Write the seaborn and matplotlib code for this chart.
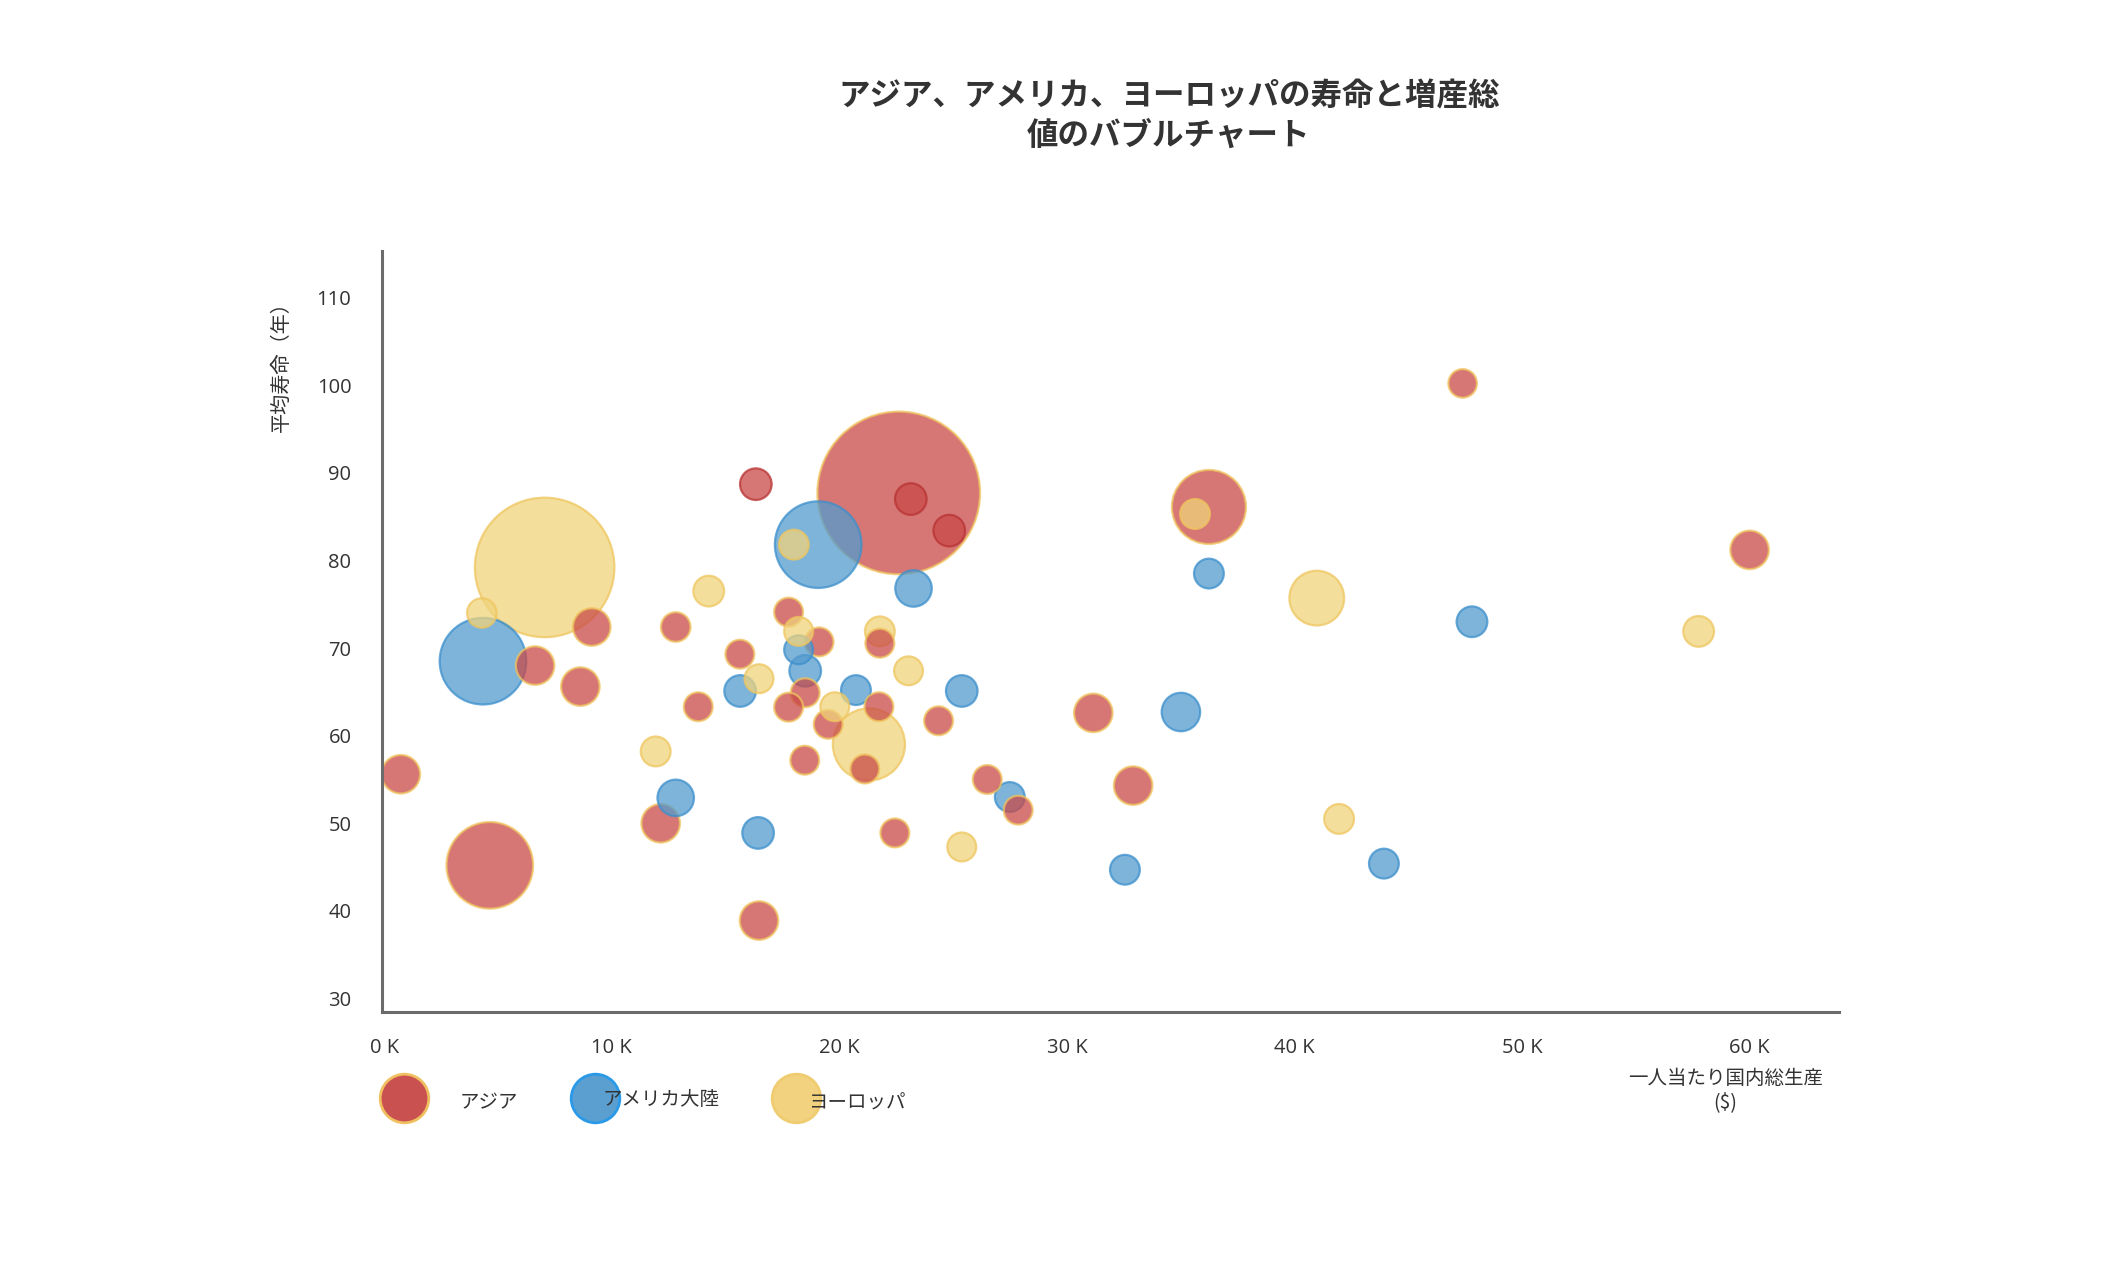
import numpy as np
import pandas as pd
import matplotlib
matplotlib.use("Agg")
import matplotlib.pyplot as plt
import seaborn as sns
from matplotlib.lines import Line2D
from matplotlib.ticker import FuncFormatter
from matplotlib.colors import to_rgba

# ---------------- data ----------------
regions = ["アジア", "アメリカ大陸", "ヨーロッパ"]

asia_gdp = [730, 4640, 9120, 6630, 8620, 12810, 16330, 22610, 23140, 24830,
            17770, 19110, 21780, 15630, 18500, 13800, 17770, 21740, 24360, 19510,
            21120, 18480, 26500, 27860, 22440, 16470, 12150, 36240, 31160, 32910,
            47390, 60000]
asia_life = [55.6, 45.2, 72.4, 68.0, 65.6, 72.4, 88.7, 87.7, 87.0, 83.4,
             74.1, 70.7, 70.55, 69.3, 64.9, 63.3, 63.25, 63.3, 61.7, 61.3,
             56.2, 57.2, 55.0, 51.5, 48.9, 38.9, 50.0, 86.1, 62.6, 54.3,
             100.2, 81.2]
asia_pop = [80, 405, 76, 80, 80, 47, 54, 1428, 54, 54,
            45, 45, 45, 45, 45, 45, 45, 45, 45, 45,
            45, 45, 45, 45, 45, 80, 80, 296, 80, 80,
            44, 80]
asia_dark_edge = [6, 8, 9]

amer_gdp = [4340, 19070, 23260, 18210, 18500, 15640, 20730, 25380, 27490, 16430,
            12810, 36240, 35010, 32550, 43930, 47800]
amer_life = [68.5, 81.8, 76.8, 69.8, 67.4, 65.1, 65.2, 65.1, 53.0, 48.9,
             52.9, 78.5, 62.7, 44.7, 45.4, 73.0]
amer_pop = [405, 405, 72, 45, 54, 54, 48, 54, 48, 54,
            72, 48, 80, 48, 48, 51]

euro_gdp = [7050, 4290, 14260, 18000, 18210, 21780, 16470, 23040, 19800, 21300,
            11930, 25380, 35630, 40980, 41960, 57760]
euro_life = [79.2, 74.0, 76.5, 81.8, 71.9, 71.9, 66.5, 67.4, 63.3, 59.0,
             58.2, 47.3, 85.3, 75.7, 50.5, 71.9]
euro_pop = [1051, 47, 51, 48, 45, 48, 45, 45, 45, 281,
            48, 45, 48, 162, 48, 51]

x_ticks = [0, 10000, 20000, 30000, 40000, 50000, 60000]
y_ticks = [30, 40, 50, 60, 70, 80, 90, 100, 110]

title_lines = ["アジア、アメリカ、ヨーロッパの寿命と増産総", "値のバブルチャート"]
y_label = "平均寿命（年）"
x_label_lines = ["一人当たり国内総生産", "($)"]

# ---------------- frame ----------------
parts = []
for reg, g, l, p in [(regions[0], asia_gdp, asia_life, asia_pop),
                     (regions[1], amer_gdp, amer_life, amer_pop),
                     (regions[2], euro_gdp, euro_life, euro_pop)]:
    d = pd.DataFrame({"region": reg, "gdp": g, "life": l, "pop": p})
    d["dark_edge"] = False
    if reg == regions[0]:
        d.loc[asia_dark_edge, "dark_edge"] = True
    parts.append(d)
df = pd.concat(parts, ignore_index=True)
df = df.sort_values("pop", ascending=False, kind="mergesort").reset_index(drop=True)

# ---------------- style ----------------
sns.set_style("white")
plt.rcParams["font.family"] = ["Open Sans", "Noto Sans CJK JP", "DejaVu Sans"]
CJK = ["Noto Sans CJK JP", "DejaVu Sans"]

fill = {"アジア": "#c94a48", "アメリカ大陸": "#549bce", "ヨーロッパ": "#f0d37b"}
edge = {"アジア": "#f0c45c", "アメリカ大陸": "#3b8fcc", "ヨーロッパ": "#efc65e"}
dark_edge_color = "#b83232"

fig = plt.figure(figsize=(21.02, 12.86), dpi=100)
fig.patch.set_facecolor("white")
ax = fig.add_axes([0.1817, 0.2133, 0.6932, 0.5918])

sns.scatterplot(data=df, x="gdp", y="life", hue="region", palette=fill,
                size="pop", sizes=(0, 1500 * 9.6), size_norm=(0, 1500),
                alpha=0.75, linewidth=1.6, legend=False, ax=ax)

coll = ax.collections[0]
ecs = [to_rgba(dark_edge_color if de else edge[r], 0.75)
       for r, de in zip(df["region"], df["dark_edge"])]
coll.set_edgecolor(ecs)

ax.set_xlim(-100, 63930)
ax.set_ylim(28.5, 115.35)
ax.set_xticks(x_ticks)
ax.set_yticks(y_ticks)
ax.xaxis.set_major_formatter(FuncFormatter(lambda v, _: f"{int(round(v / 1000))} K"))
ax.set_xlabel("")
ax.set_ylabel("")
for s in ["top", "right"]:
    ax.spines[s].set_visible(False)
for s in ["left", "bottom"]:
    ax.spines[s].set_color("#6b6b6b")
    ax.spines[s].set_linewidth(2.2)
ax.tick_params(axis="both", length=0, labelsize=14.5, colors="#333333")
ax.tick_params(axis="x", pad=19)
ax.tick_params(axis="y", pad=22)
ax.grid(False)

# title
fig.text(0.556, 0.925, title_lines[0], ha="center", va="center", fontsize=22.7,
         fontweight="bold", color="#333333", family=CJK)
fig.text(0.556, 0.8947, title_lines[1], ha="center", va="center", fontsize=22.7,
         fontweight="bold", color="#333333", family=CJK)

# axis labels
fig.text(0.1339, 0.7185, y_label, rotation=90, ha="center", va="center",
         fontsize=14.5, color="#333333", family=CJK)
fig.text(0.8209, 0.161, x_label_lines[0], ha="center", va="center",
         fontsize=14, color="#333333", family=CJK)
fig.text(0.8209, 0.1423, x_label_lines[1], ha="center", va="center",
         fontsize=14, color="#333333", family=CJK)

# legend
leg_face = {"アジア": "#c9514f", "アメリカ大陸": "#5a9fd0", "ヨーロッパ": "#f2d27e"}
leg_edge = {"アジア": "#f0c060", "アメリカ大陸": "#2a9ae8", "ヨーロッパ": "#f0cc70"}
marker_x = [0.192, 0.2831, 0.3787]
text_pos = [(0.2326, 0.1423), (0.3145, 0.1454), (0.4077, 0.1423)]
for reg, mx, (tx, ty) in zip(regions, marker_x, text_pos):
    fig.add_artist(Line2D([mx], [0.1462], transform=fig.transFigure, marker="o",
                          markersize=35, markerfacecolor=leg_face[reg],
                          markeredgecolor=leg_edge[reg], markeredgewidth=2,
                          linestyle="none"))
    fig.text(tx, ty, reg, ha="center", va="center", fontsize=14,
             color="#333333", family=CJK)

fig.savefig("out.png", dpi=100, facecolor="white")
